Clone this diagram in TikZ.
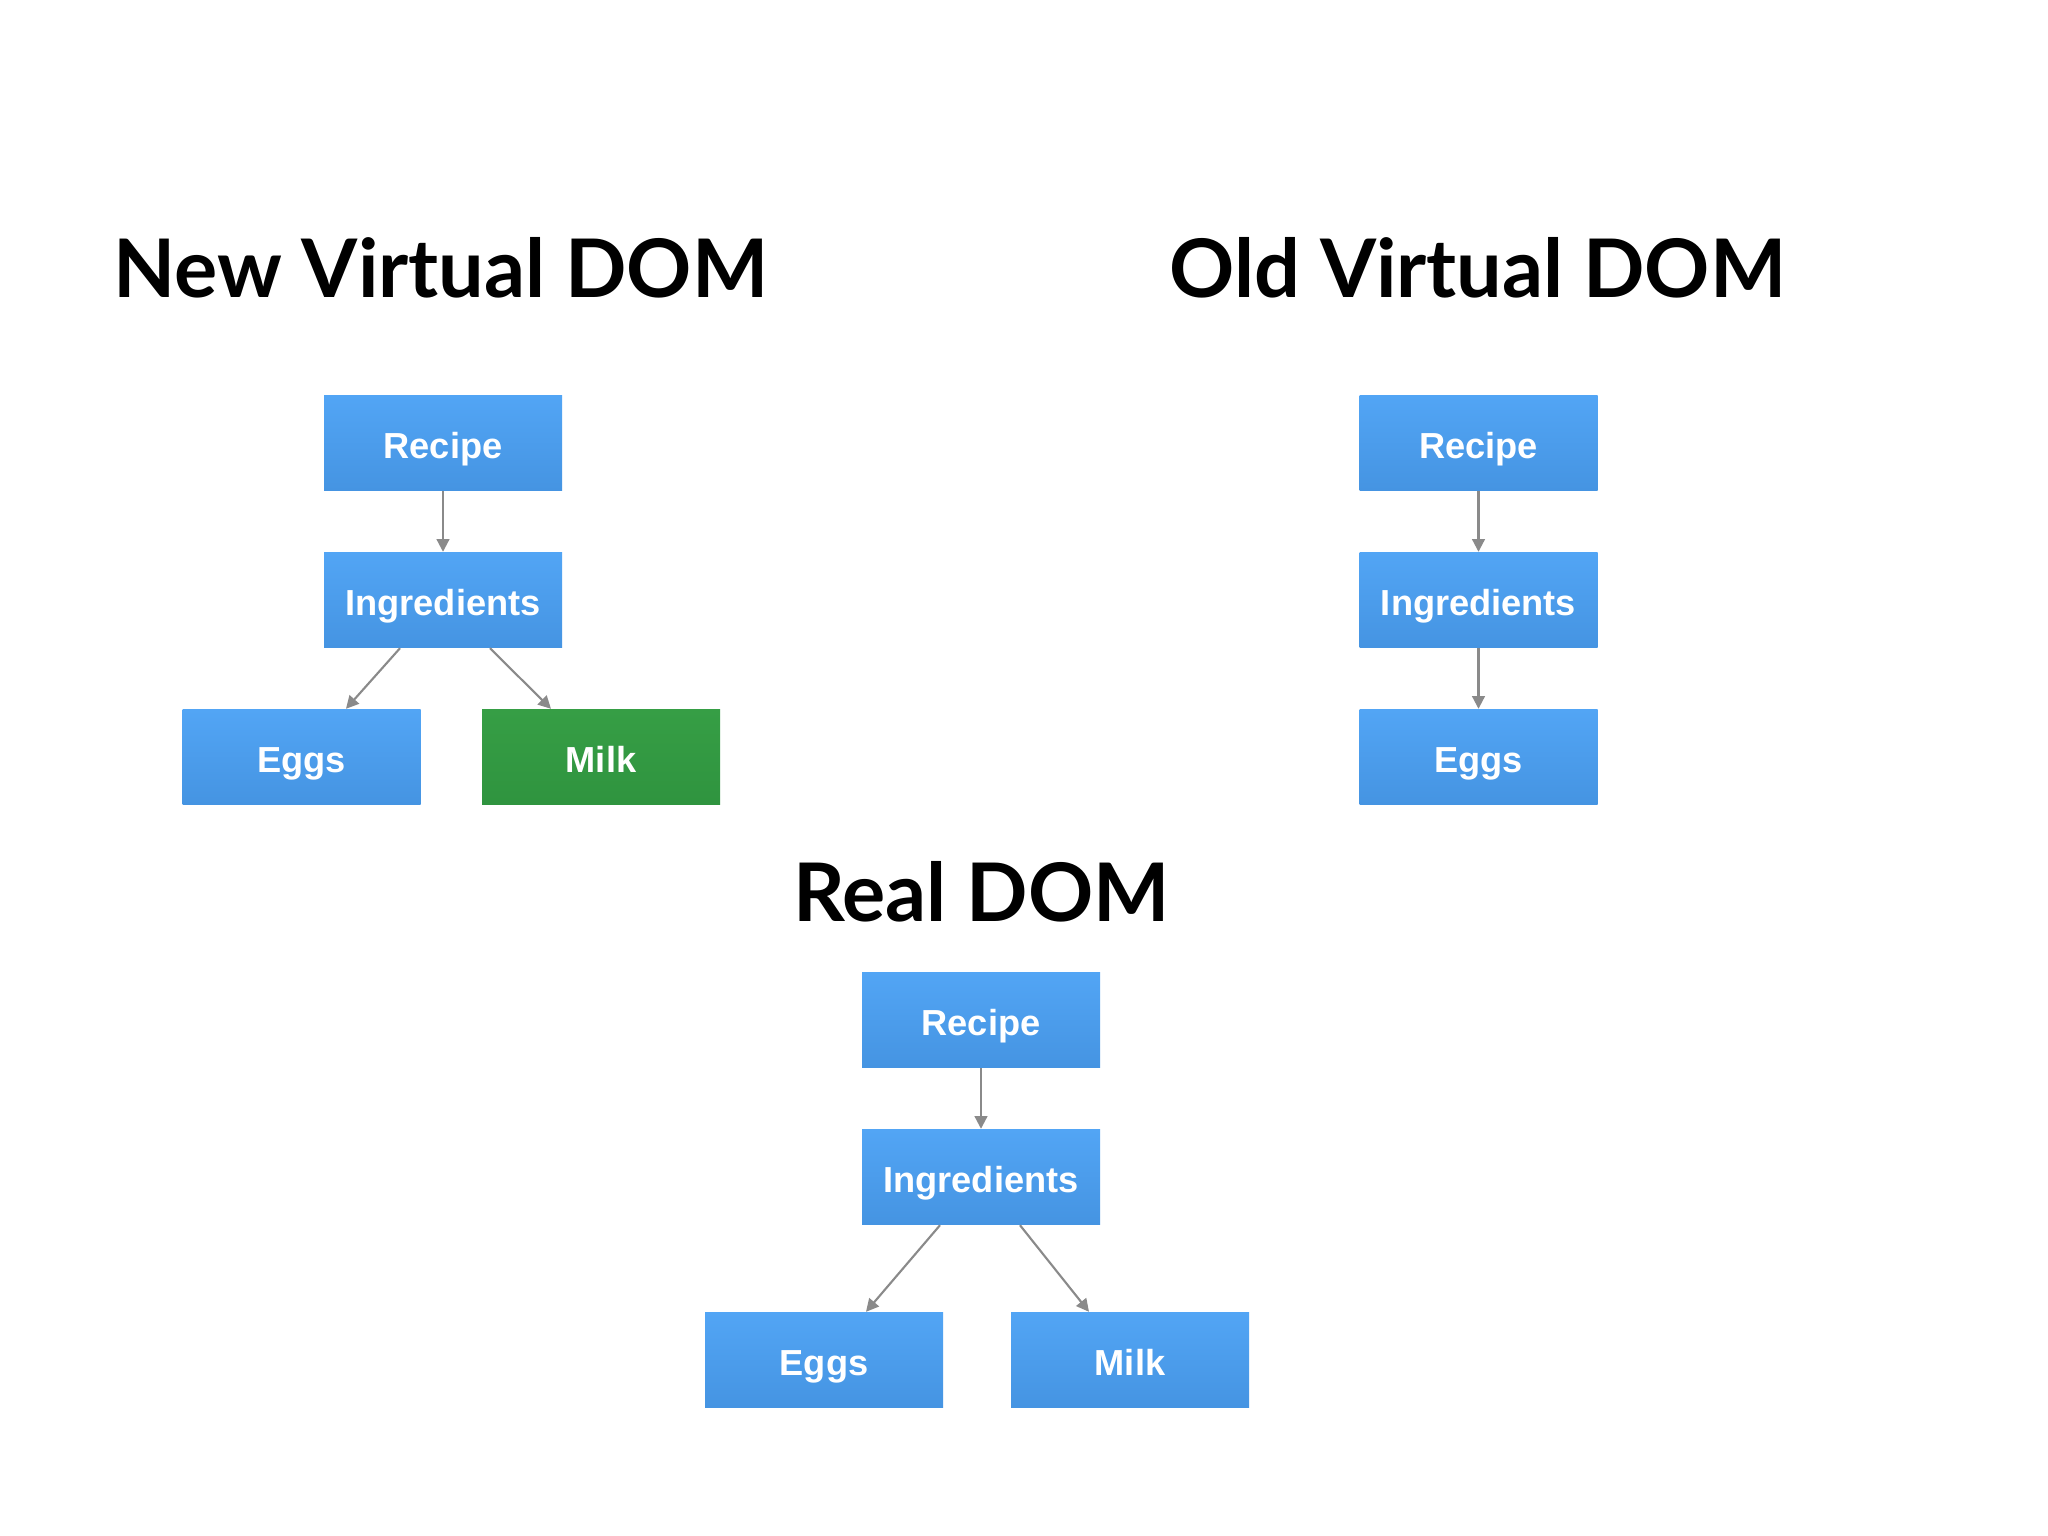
\documentclass[tikz,border=0pt]{standalone}
\usepackage{fontspec}
\setmainfont{Liberation Sans}
\newfontfamily\titlefont{Lato}
\usetikzlibrary{arrows.meta}
\definecolor{boxtop}{HTML}{52A5F5}
\definecolor{boxbot}{HTML}{4594E2}
\definecolor{newtop}{HTML}{369E45}
\definecolor{newbot}{HTML}{2F943F}
\definecolor{linkgray}{HTML}{8A8A8A}
\tikzset{
  domnode/.style={minimum width=2.38cm, minimum height=0.95cm, inner sep=0pt,
    text height=9pt, text depth=0pt,
    top color=boxtop, bottom color=boxbot, text=white,
    font=\fontsize{10.3}{12}\selectfont\bfseries},
  addednode/.style={domnode, top color=newtop, bottom color=newbot},
  domtitle/.style={anchor=base, inner sep=0pt, font=\titlefont\bfseries\fontsize{23}{28}\selectfont},
  link/.style={draw=linkgray, line width=0.6pt, -{Triangle[length=3.6pt,width=3.6pt]}}
}
\begin{document}
\begin{tikzpicture}
\useasboundingbox[fill=white] (0,0) rectangle (20.48,-15.36);
% titles
\node[domtitle] (newtitle) at (4.41,-2.98) {New Virtual DOM};
\node[domtitle] (oldtitle) at (14.78,-2.98) {Old Virtual DOM};
\node[domtitle] (realtitle) at (9.815,-9.21) {Real DOM};
% new virtual dom
\node[domnode] (nrecipe) at (4.43,-4.43) {Recipe};
\node[domnode] (ningr) at (4.43,-6.00) {Ingredients};
\node[domnode] (neggs) at (3.015,-7.57) {Eggs};
\node[addednode] (nmilk) at (6.01,-7.57) {Milk};
\draw[link] (nrecipe) -- (ningr);
\draw[link] ([xshift=-0.43cm]ningr.south) -- ([xshift=0.445cm]neggs.north);
\draw[link] ([xshift=0.47cm]ningr.south) -- ([xshift=-0.50cm]nmilk.north);
% old virtual dom
\node[domnode] (orecipe) at (14.785,-4.43) {Recipe};
\node[domnode] (oingr) at (14.785,-6.00) {Ingredients};
\node[domnode] (oeggs) at (14.785,-7.57) {Eggs};
\draw[link] (orecipe) -- (oingr);
\draw[link] (oingr) -- (oeggs);
% real dom
\node[domnode] (rrecipe) at (9.81,-10.20) {Recipe};
\node[domnode] (ringr) at (9.81,-11.77) {Ingredients};
\node[domnode] (reggs) at (8.24,-13.60) {Eggs};
\node[domnode] (rmilk) at (11.30,-13.60) {Milk};
\draw[link] (rrecipe) -- (ringr);
\draw[link] ([xshift=-0.41cm]ringr.south) -- ([xshift=0.42cm]reggs.north);
\draw[link] ([xshift=0.39cm]ringr.south) -- ([xshift=-0.41cm]rmilk.north);
\end{tikzpicture}
\end{document}
